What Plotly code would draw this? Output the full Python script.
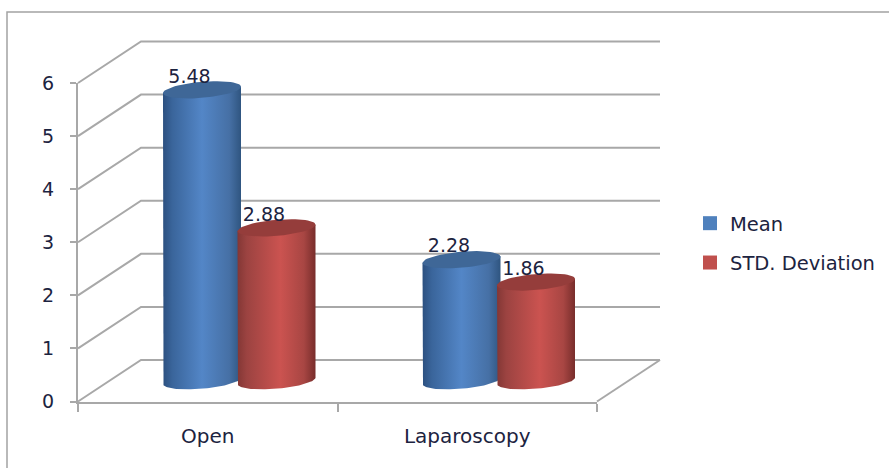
import numpy as np
import plotly.graph_objects as go

# Chart data
categories = ["Open", "Laparoscopy"]
mean_values = [5.48, 2.28]
std_values = [2.88, 1.86]
value_ticks = [0, 1, 2, 3, 4, 5, 6]

# Canvas and front-face box of the chart, in pixels
WIDTH, HEIGHT = 889, 468
BOX_LEFT, BOX_RIGHT = 78, 597
BOX_BOTTOM, BOX_TOP = 401.5, 83
PX_PER_CAT = (BOX_RIGHT - BOX_LEFT) / 2
PX_PER_VAL = (BOX_BOTTOM - BOX_TOP) / 6

# Oblique projection of the 3D box, in axis units
DEPTH_X = 63 / PX_PER_CAT
DEPTH_Y = 41.5 / PX_PER_VAL
BAR_STEP = 74.5 / PX_PER_CAT
RADIUS_X = 39 / PX_PER_CAT
RADIUS_Y = 8 / PX_PER_VAL
TILT = 3.2 / PX_PER_VAL

GRID = "#A8A8A8"
TEXT = "#1C2340"
FONT = "DejaVu Sans"

series = [
    dict(name="Mean", values=mean_values, swatch="#4F81BD", top="#3F6797",
         ramp=[[0, "#2C5080"], [0.12, "#3A659B"], [0.5, "#5386C7"], [0.85, "#4670A5"], [1, "#2F5580"]]),
    dict(name="STD. Deviation", values=std_values, swatch="#C0504D", top="#953D3B",
         ramp=[[0, "#833735"], [0.12, "#9C4341"], [0.55, "#CB5350"], [0.85, "#A84643"], [1, "#782D2B"]]),
]


def ellipse(cx, cy, start, stop):
    t = np.linspace(start, stop, 60)
    return cx + RADIUS_X * np.cos(t), cy + RADIUS_Y * np.sin(t) + TILT * np.cos(t)


fig = go.Figure()

# The drawing layer spans the whole canvas so the depth offset can leave the front box
draw = dict(xaxis="x2", yaxis="y2", showlegend=False, hoverinfo="skip")

# Side wall and back wall gridlines
for v in value_ticks:
    fig.add_trace(go.Scatter(
        x=[-0.5, -0.5 + DEPTH_X, 1.5 + DEPTH_X],
        y=[v, v + DEPTH_Y, v + DEPTH_Y],
        mode="lines", line=dict(color=GRID, width=2), **draw,
    ))

# Floor edge on the right-hand side
fig.add_trace(go.Scatter(
    x=[1.5, 1.5 + DEPTH_X], y=[0, DEPTH_Y],
    mode="lines", line=dict(color=GRID, width=2), **draw,
))

# Cylinders, drawn left to right within each category
for c in range(len(categories)):
    for j, s in enumerate(series):
        cx = c + DEPTH_X / 2 + (j - 0.5) * BAR_STEP
        base = DEPTH_Y / 2
        top = s["values"][c] + base
        bx, by = ellipse(cx, base, np.pi, 2 * np.pi)
        side_x = np.concatenate([[cx - RADIUS_X], bx, [cx + RADIUS_X], [cx - RADIUS_X]])
        side_y = np.concatenate([[top - TILT], by, [top + TILT], [top - TILT]])
        fig.add_trace(go.Scatter(
            x=side_x, y=side_y, mode="lines", line=dict(width=0),
            fill="toself",
            fillgradient=dict(type="horizontal", colorscale=s["ramp"]), **draw,
        ))
        tx, ty = ellipse(cx, top, 0, 2 * np.pi)
        fig.add_trace(go.Scatter(
            x=tx, y=ty, mode="lines", line=dict(width=0),
            fill="toself", fillcolor=s["top"], **draw,
        ))

# Value labels above each cylinder
for j, s in enumerate(series):
    fig.add_trace(go.Scatter(
        x=[c + DEPTH_X / 2 + (j - 0.5) * BAR_STEP - 12.5 / PX_PER_CAT for c in range(len(categories))],
        y=[v + DEPTH_Y / 2 + 12 / PX_PER_VAL for v in s["values"]],
        mode="text", text=[f"{v:.2f}" for v in s["values"]],
        textposition="middle center",
        textfont=dict(family=FONT, size=19, color=TEXT), **draw,
    ))

# Legend entries
for s in series:
    fig.add_trace(go.Scatter(
        x=[None], y=[None], mode="markers", name=s["name"], legendgroup=s["name"],
        marker=dict(symbol="square", size=14, color=s["swatch"]),
    ))

fig.update_layout(
    width=WIDTH, height=HEIGHT, autosize=False,
    margin=dict(l=0, r=0, t=0, b=0, pad=0, autoexpand=False),
    paper_bgcolor="white", plot_bgcolor="rgba(0,0,0,0)",
    font=dict(family=FONT, size=19, color=TEXT),
    showlegend=True,
    legend=dict(
        x=690 / WIDTH, xanchor="left", y=1 - 243 / HEIGHT, yanchor="middle",
        traceorder="grouped", tracegroupgap=11,
        font=dict(family=FONT, size=19.5, color=TEXT),
        bgcolor="rgba(0,0,0,0)",
    ),
    # Outer chart frame, open at the right and bottom of the canvas
    shapes=[dict(
        type="path", xref="paper", yref="paper",
        path=f"M {7 / WIDTH} 0 L {7 / WIDTH} {1 - 12 / HEIGHT} L 1 {1 - 12 / HEIGHT}",
        line=dict(color="#A3A3A3", width=1.5), layer="below",
    )],
    xaxis=dict(
        domain=[BOX_LEFT / WIDTH, BOX_RIGHT / WIDTH],
        range=[-0.5, 1.5], tickmode="array", tickvals=[0, 1], ticktext=categories,
        ticks="", ticklabelstandoff=15, showgrid=False, zeroline=False,
        showline=True, linecolor=GRID, linewidth=2,
        tickfont=dict(family=FONT, size=20, color=TEXT),
        minor=dict(tickmode="array", tickvals=[-0.5, 0.5, 1.5], ticks="outside",
                   ticklen=8, tickwidth=2, tickcolor=GRID, showgrid=False),
    ),
    yaxis=dict(
        domain=[1 - BOX_BOTTOM / HEIGHT, 1 - BOX_TOP / HEIGHT],
        range=[0, 6], tickmode="array", tickvals=value_ticks,
        ticks="outside", ticklen=6, tickwidth=2, tickcolor=GRID,
        ticklabelstandoff=12, showgrid=False, zeroline=False,
        showline=True, linecolor=GRID, linewidth=2,
        tickfont=dict(family=FONT, size=19, color=TEXT),
    ),
    # Same scale as the front box, extended to the canvas edges
    xaxis2=dict(
        domain=[0, 1], anchor="y2", visible=False,
        range=[(0 - BOX_LEFT) / PX_PER_CAT - 0.5, (WIDTH - BOX_LEFT) / PX_PER_CAT - 0.5],
    ),
    yaxis2=dict(
        domain=[0, 1], anchor="x2", visible=False,
        range=[(BOX_BOTTOM - HEIGHT) / PX_PER_VAL, BOX_BOTTOM / PX_PER_VAL],
    ),
)

fig.write_html("out.html", config=dict(displayModeBar=False))
